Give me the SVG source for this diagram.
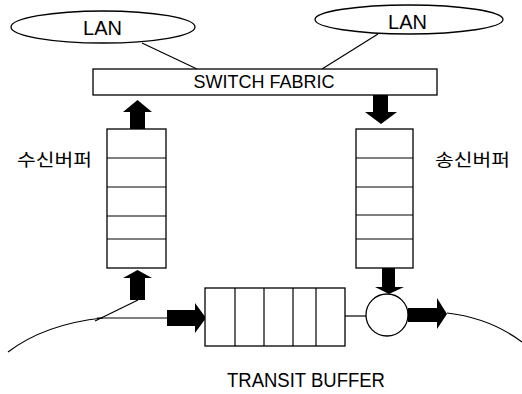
<svg xmlns="http://www.w3.org/2000/svg" width="522" height="394" viewBox="0 0 522 394">
<style>
.s{fill:#fff;stroke:#000;stroke-width:1.3}
.l{fill:none;stroke:#000;stroke-width:1.2}
.a{fill:#000;stroke:none}
.t{font-family:"Liberation Sans",Arial,sans-serif;fill:#000}
.k{font-family:"Noto Sans CJK KR","Liberation Sans",sans-serif;fill:#000}
</style>
<rect width="522" height="394" fill="#fff"/>
<g id="connectors">
<line class="l" x1="142" y1="43" x2="197" y2="69"/>
<line class="l" x1="378" y1="34" x2="322" y2="69"/>
<polygon class="a" points="137.5,100 152,112 145,112 145,129 130,129 130,112 123,112"/>
<polygon class="a" points="373,95 388,95 388,112 397,112 381,124 365,112 373,112"/>
<polygon class="a" points="137.5,270 152,278 145,278 145,300 130,300 130,278 123,278"/>
<polyline class="l" points="138,300 95,321"/>
<path class="l" d="M8,352 Q45,324 103,318"/>
<line class="l" x1="97" y1="318" x2="168" y2="318"/>
<polygon class="a" points="167,310 195,310 195,303 206,318 195,333 195,326 167,326"/>
<line class="l" x1="345" y1="316" x2="366" y2="316"/>
<polygon class="a" points="382,268 395,268 395,287 404,287 389,294 375,287 382,287"/>
<polygon class="a" points="408,308 437,308 437,298 447,314 437,329 437,322 408,322"/>
<path class="l" d="M447,313 Q490,318 522,342"/>
</g>
<g id="lan-left">
<ellipse class="s" cx="103" cy="27" rx="92" ry="16"/>
<text class="t" x="102.5" y="35" font-size="20" text-anchor="middle">LAN</text>
</g>
<g id="lan-right">
<ellipse class="s" cx="409" cy="19.5" rx="94" ry="14.5"/>
<text class="t" x="407.5" y="29" font-size="20" text-anchor="middle">LAN</text>
</g>
<g id="switch-fabric">
<rect class="s" x="93" y="69" width="344" height="26"/>
<text class="t" x="264" y="88" font-size="18" text-anchor="middle">SWITCH FABRIC</text>
</g>
<g id="rx-buffer">
<rect class="s" x="107" y="129" width="59" height="139"/>
<line class="l" x1="107" y1="158" x2="166" y2="158"/>
<line class="l" x1="107" y1="187" x2="166" y2="187"/>
<line class="l" x1="107" y1="216" x2="166" y2="216"/>
<line class="l" x1="107" y1="239" x2="166" y2="239"/>
<text class="k" x="17" y="166" font-size="17" textLength="75" lengthAdjust="spacingAndGlyphs">수신버퍼</text>
</g>
<g id="tx-buffer">
<rect class="s" x="356" y="129" width="57" height="139"/>
<line class="l" x1="356" y1="158" x2="413" y2="158"/>
<line class="l" x1="356" y1="187" x2="413" y2="187"/>
<line class="l" x1="356" y1="215" x2="413" y2="215"/>
<line class="l" x1="356" y1="239" x2="413" y2="239"/>
<text class="k" x="435" y="166" font-size="17" textLength="75" lengthAdjust="spacingAndGlyphs">송신버퍼</text>
</g>
<g id="transit-buffer">
<rect class="s" x="205" y="288" width="140" height="58"/>
<line class="l" x1="235" y1="288" x2="235" y2="346"/>
<line class="l" x1="264" y1="288" x2="264" y2="346"/>
<line class="l" x1="293" y1="288" x2="293" y2="346"/>
<line class="l" x1="316" y1="288" x2="316" y2="346"/>
<text class="t" x="227" y="387" font-size="20" textLength="158" lengthAdjust="spacingAndGlyphs">TRANSIT BUFFER</text>
</g>
<g id="mux">
<circle class="s" cx="387" cy="315" r="21"/>
</g>
</svg>
